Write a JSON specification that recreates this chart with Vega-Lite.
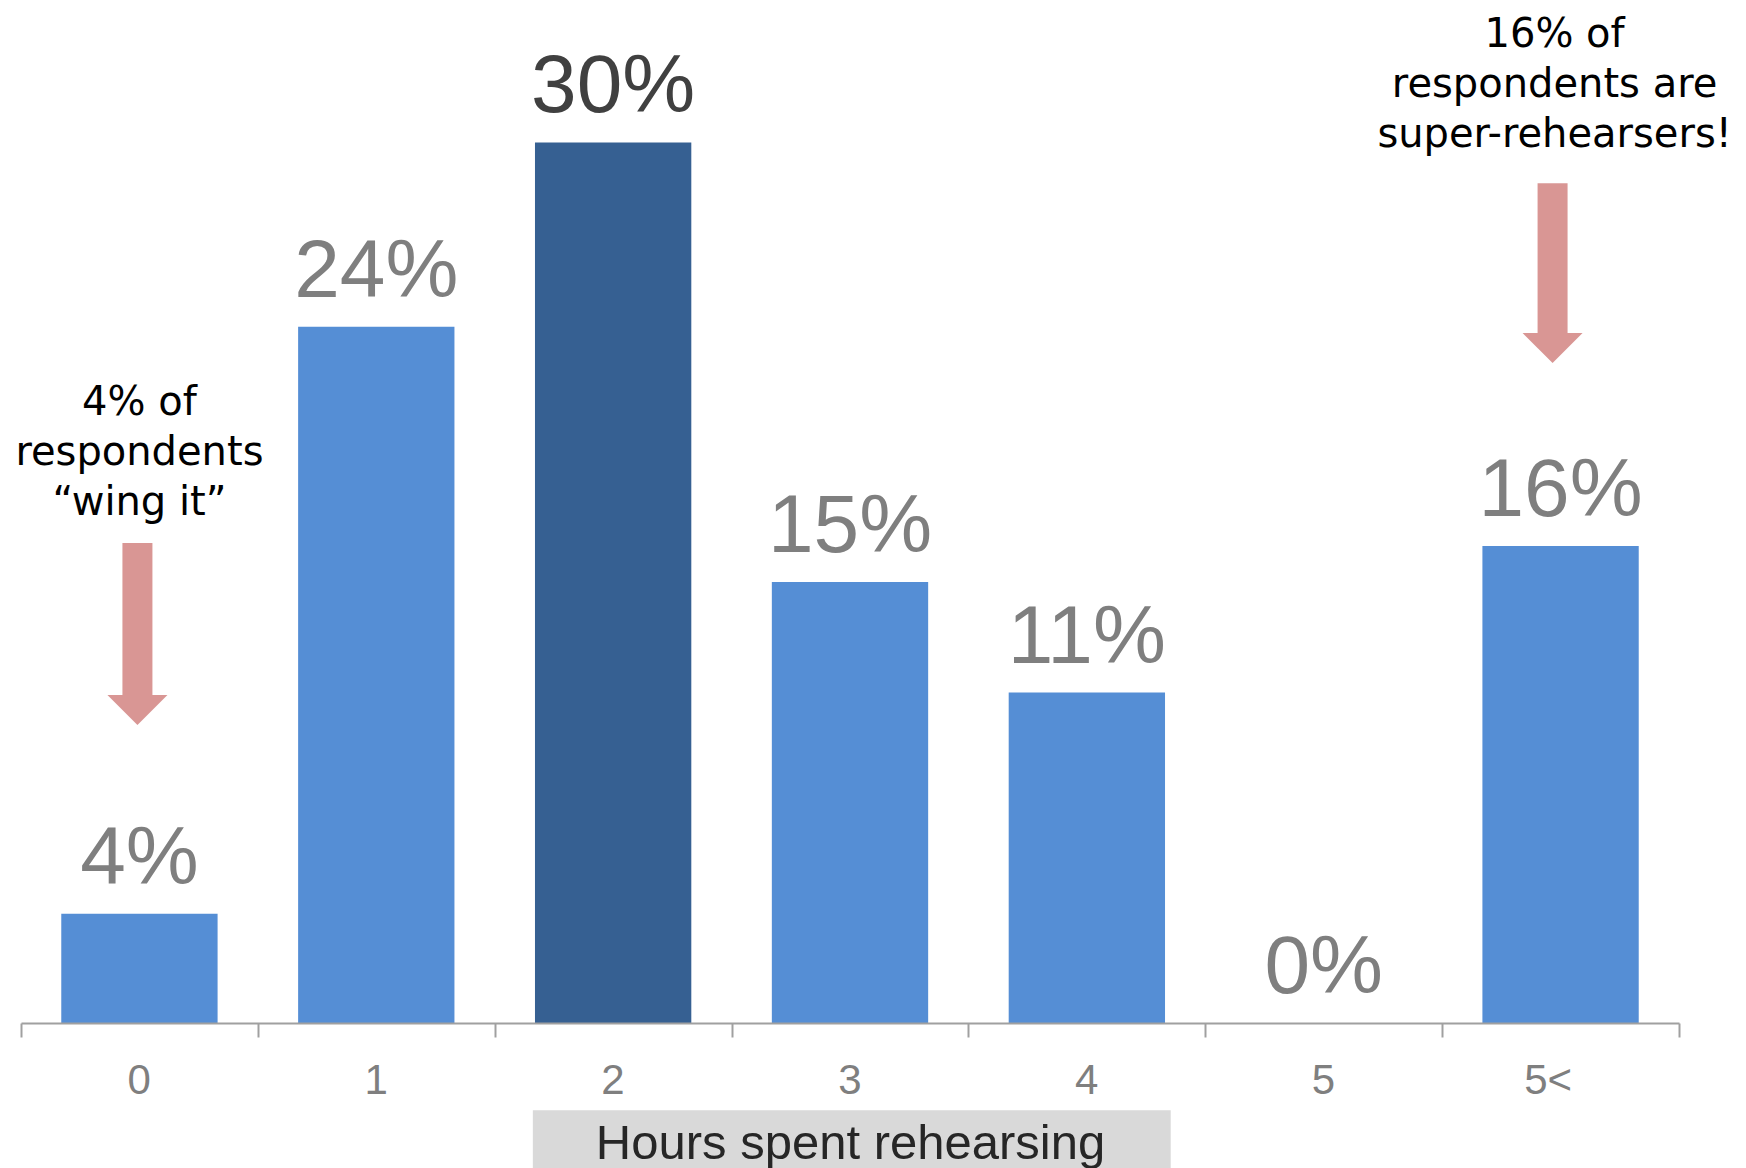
{
  "$schema": "https://vega.github.io/schema/vega-lite/v6.json",
  "width": 1658,
  "height": 1003,
  "autosize": {"type": "none"},
  "padding": {"left": 21, "top": 20, "right": 67, "bottom": 145},
  "background": "white",
  "config": {
    "view": {"stroke": null}
  },
  "datasets": {
    "bars": [
      {"hours": "0", "pct": 3.7, "label": "4%", "group": "other"},
      {"hours": "1", "pct": 23.6, "label": "24%", "group": "other"},
      {"hours": "2", "pct": 29.85, "label": "30%", "group": "peak"},
      {"hours": "3", "pct": 14.95, "label": "15%", "group": "other"},
      {"hours": "4", "pct": 11.2, "label": "11%", "group": "other"},
      {"hours": "5", "pct": 0, "label": "0%", "group": "other"},
      {"hours": "5<", "pct": 16.17, "label": "16%", "group": "other"}
    ],
    "notes": [
      {"hours": "0", "text": ["4% of", "respondents", "“wing it”"], "y": 20.6, "shaftTop": 16.27, "shaftEnd": 11.05, "head": 10.61},
      {"hours": "5<", "text": ["16% of", "respondents are", "super-rehearsers!"], "y": 33.08, "shaftTop": 28.47, "shaftEnd": 23.33, "head": 22.88}
    ],
    "box": [
      {"from": "2", "to": "4", "top": -2.96, "bottom": -5.5}
    ]
  },
  "layer": [
    {
      "data": {"name": "box"},
      "mark": {"type": "rect", "color": "#d9d9d9"},
      "encoding": {
        "x": {"field": "from", "type": "nominal", "bandPosition": 0.161, "title": "Hours spent rehearsing", "scale": {"domain": ["0", "1", "2", "3", "4", "5", "5<"], "paddingInner": 0, "paddingOuter": 0}},
        "x2": {"field": "to", "bandPosition": 0.854},
        "y": {"field": "top", "type": "quantitative", "scale": {"domain": [0, 34], "nice": false, "zero": false}, "axis": null},
        "y2": {"field": "bottom"}
      }
    },
    {
      "data": {"name": "bars"},
      "mark": {"type": "bar", "width": {"band": 0.66}},
      "encoding": {
        "x": {
          "field": "hours", "type": "nominal", "title": "Hours spent rehearsing", "sort": null,
          "axis": {
            "orient": "bottom",
            "labelAngle": 0,
            "domainColor": "#a0a0a0",
            "domainWidth": 2,
            "tickColor": "#a0a0a0",
            "tickWidth": 2,
            "tickSize": 14,
            "tickBand": "extent",
            "labelOffset": 11,
            "labelFont": "Liberation Sans",
            "labelFontSize": 42,
            "labelColor": "#7f7f7f",
            "labelPadding": 23,
            "labelBaseline": "top",
            "titleFont": "Liberation Sans",
            "titleFontSize": 49,
            "titleFontWeight": "normal",
            "titleColor": "#262626",
            "titleBaseline": "alphabetic",
            "titleAnchor": "middle",
            "titleY": 135,
            "zindex": 2,
            "grid": false
          }
        },
        "y": {"field": "pct", "type": "quantitative", "axis": null},
        "color": {"field": "group", "type": "nominal", "scale": {"domain": ["other", "peak"], "range": ["#558ed5", "#366092"]}, "legend": null}
      }
    },
    {
      "data": {"name": "bars"},
      "mark": {"type": "text", "font": "Liberation Sans", "fontSize": 82, "baseline": "alphabetic", "align": "center", "dy": -30},
      "encoding": {
        "x": {"field": "hours", "type": "nominal", "title": "Hours spent rehearsing"},
        "y": {"field": "pct", "type": "quantitative", "axis": null},
        "text": {"field": "label"},
        "color": {"condition": {"test": "datum.hours === '2'", "value": "#404040"}, "value": "#7f7f7f"}
      }
    },
    {
      "data": {"name": "notes"},
      "mark": {"type": "rule", "color": "#d99694", "strokeWidth": 30, "strokeCap": "butt", "xOffset": {"expr": "datum.hours === '5<' ? -8 : -2"}},
      "encoding": {
        "x": {"field": "hours", "type": "nominal", "title": "Hours spent rehearsing"},
        "y": {"field": "shaftTop", "type": "quantitative", "axis": null},
        "y2": {"field": "shaftEnd"}
      }
    },
    {
      "data": {"name": "notes"},
      "mark": {"type": "point", "shape": "M-1,-0.5L1,-0.5L0,0.5Z", "size": 3600, "filled": true, "opacity": 1, "color": "#d99694", "strokeWidth": 0, "xOffset": {"expr": "datum.hours === '5<' ? -8 : -2"}},
      "encoding": {
        "x": {"field": "hours", "type": "nominal", "title": "Hours spent rehearsing"},
        "y": {"field": "head", "type": "quantitative", "axis": null}
      }
    },
    {
      "data": {"name": "notes"},
      "mark": {"type": "text", "font": "DejaVu Sans", "fontSize": 40, "color": "#000000", "align": "center", "baseline": "alphabetic", "lineHeight": 50, "xOffset": {"expr": "datum.hours === '5<' ? -6 : 0"}},
      "encoding": {
        "x": {"field": "hours", "type": "nominal", "title": "Hours spent rehearsing"},
        "y": {"field": "y", "type": "quantitative", "axis": null},
        "text": {"field": "text"}
      }
    }
  ]
}
